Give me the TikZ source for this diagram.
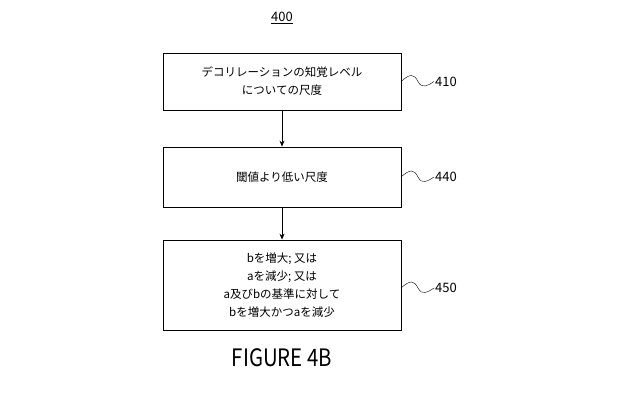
\documentclass[tikz,border=0pt]{standalone}
\usepackage{fontspec}
\setmainfont{Noto Sans CJK JP}
\usetikzlibrary{positioning,arrows.meta}
\begin{document}
\begin{tikzpicture}[
    x=1pt, y=-1pt,
    >={Stealth[length=6pt,width=5pt]},
    stepbox/.style = {draw=black, thick, minimum width=238pt, align=center, font=\fontsize{11.5}{18}\selectfont},
    refnum/.style = {font=\fontsize{13}{14}\selectfont, anchor=west, inner sep=1pt}
                    ]
\useasboundingbox (0,0) rectangle (640,400);
\node (top) at (282,18) {\fontsize{13}{14}\selectfont\underline{400}};
\node[stepbox, minimum height=57pt] (410) at (282,81.5) {デコリレーションの知覚レベル\\についての尺度};
\node[stepbox, minimum height=60pt] (440) at (282,177) {閾値より低い尺度};
\node[stepbox, minimum height=90pt] (450) at (282,285) {bを増大; 又は\\aを減少; 又は\\a及びbの基準に対して\\bを増大かつaを減少};
\node (fig) at (282,358) {\fontsize{24}{28}\selectfont\scalebox{0.85}[1]{FIGURE 4B}};

\draw[->, thick] (410) -- (440);
\draw[->, thick] (440) -- (450);

% reference numerals
\foreach \n/\yy in {410/81.5, 440/177, 450/288}{
  \coordinate (s\n) at (401,\yy);
  \node[refnum] (l\n) at (434,\yy) {\n};
  \draw (s\n) .. controls (410,\yy-8) and (414,\yy-8) .. (418,\yy)
              .. controls (422,\yy+8) and (428,\yy+4) .. (l\n.west);
}
\end{tikzpicture}
\end{document}
